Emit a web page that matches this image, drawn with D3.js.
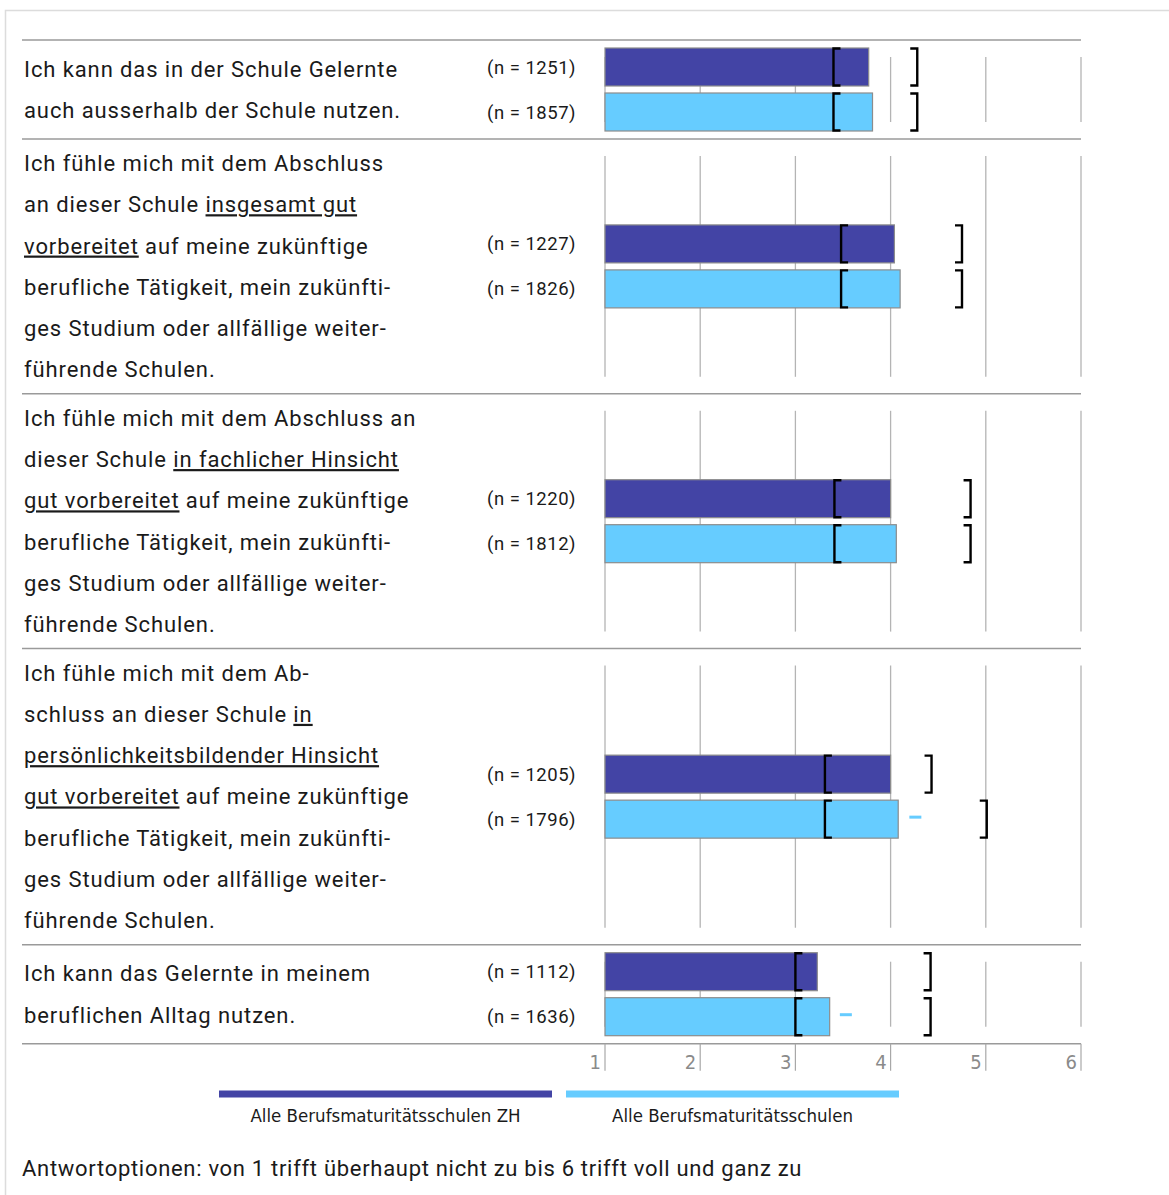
<!DOCTYPE html>
<html>
<head>
<meta charset="utf-8">
<script src="https://cdn.jsdelivr.net/npm/d3@7"></script>
<style>
  html, body { margin: 0; padding: 0; background: #fff; }
  svg { display: block; }
</style>
</head>
<body>
<svg id="chart" width="1169" height="1195"></svg>
<script>
// ---------- DATA ----------
// question text lines; {...} marks underlined parts
const questionLines = [
  ["Ich kann das in der Schule Gelernte",
   "auch ausserhalb der Schule nutzen."],
  ["Ich fühle mich mit dem Abschluss",
   "an dieser Schule {insgesamt gut}",
   "{vorbereitet} auf meine zukünftige",
   "berufliche Tätigkeit, mein zukünfti-",
   "ges Studium oder allfällige weiter-",
   "führende Schulen."],
  ["Ich fühle mich mit dem Abschluss an",
   "dieser Schule {in fachlicher Hinsicht}",
   "{gut vorbereitet} auf meine zukünftige",
   "berufliche Tätigkeit, mein zukünfti-",
   "ges Studium oder allfällige weiter-",
   "führende Schulen."],
  ["Ich fühle mich mit dem Ab-",
   "schluss an dieser Schule {in}",
   "{persönlichkeitsbildender Hinsicht}",
   "{gut vorbereitet} auf meine zukünftige",
   "berufliche Tätigkeit, mein zukünfti-",
   "ges Studium oder allfällige weiter-",
   "führende Schulen."],
  ["Ich kann das Gelernte in meinem",
   "beruflichen Alltag nutzen."]
];
const seriesNames = ["Alle Berufsmaturitätsschulen ZH", "Alle Berufsmaturitätsschulen"];
const nZH   = [1251, 1227, 1220, 1205, 1112];
const nAll  = [1857, 1826, 1812, 1796, 1636];
const meanZH  = [3.77, 4.04, 4.00, 4.00, 3.23];
const meanAll = [3.81, 4.10, 4.06, 4.08, 3.36];
const lowZH   = [3.40, 3.48, 3.41, 3.31, 3.00];
const highZH  = [4.28, 4.75, 4.84, 4.43, 4.42];
const lowAll  = [3.40, 3.48, 3.41, 3.31, 3.00];
const highAll = [4.28, 4.75, 4.84, 5.01, 4.42];
const markAll = [null, null, null, 4.26, 3.53];
const tickValues = [1, 2, 3, 4, 5, 6];
const footnote = "Antwortoptionen: von 1 trifft überhaupt nicht zu bis 6 trifft voll und ganz zu";

// ---------- STYLE / LAYOUT ----------
const colors = ["#4344A5", "#66CCFF"];
const mainFont = "Roboto, 'Open Sans', sans-serif";
const narrowFont = "'Liberation Sans Narrow', 'DejaVu Sans Condensed', Roboto, sans-serif";
const svg = d3.select("#chart");

const x = d3.scaleLinear().domain([1, 6]).range([605, 1081]);
const leftX = 22, rightX = 1081;
const lineH = 41.3;
const barH = 38, barGap = 7;

// outer frame
svg.append("rect").attr("x", 5.5).attr("y", 10.5).attr("width", 1200).attr("height", 1300)
  .attr("fill", "none").attr("stroke", "#dcdcdc").attr("stroke-width", 1.5);

// compute row layout
let rowTop = 40;
const rows = questionLines.map((lines, i) => {
  const h = Math.max(lines.length * lineH + 7, 99);
  const r = { i, lines, top: rowTop, h, center: rowTop + h / 2 };
  rowTop += h;
  return r;
});
const bottomY = rowTop;

// separators
const sepYs = rows.map(r => r.top).concat([bottomY]);
svg.append("g").selectAll("line").data(sepYs).join("line")
  .attr("x1", leftX).attr("x2", rightX)
  .attr("y1", d => d).attr("y2", d => d)
  .attr("stroke", "#9a9a9a").attr("stroke-width", 1.5);

rows.forEach(r => {
  const g = svg.append("g");
  // gridlines
  g.selectAll("line.grid").data(tickValues).join("line")
    .attr("class", "grid")
    .attr("x1", d => x(d)).attr("x2", d => x(d))
    .attr("y1", r.top + 17).attr("y2", r.top + r.h - 17)
    .attr("stroke", "#b4b4b4").attr("stroke-width", 1.3);

  // question text
  const firstY = r.center - (r.lines.length - 1) / 2 * lineH;
  r.lines.forEach((ln, k) => {
    const t = g.append("text")
      .attr("x", 24).attr("y", firstY + k * lineH + 7.8)
      .attr("font-family", mainFont).attr("font-size", 22)
      .attr("letter-spacing", 0.9)
      .attr("fill", "#1a1a1a");
    const parts = ln.split(/(\{[^}]*\})/).filter(s => s.length);
    parts.forEach(p => {
      if (p.startsWith("{")) {
        t.append("tspan").text(p.slice(1, -1)).style("text-decoration", "underline");
      } else {
        t.append("tspan").text(p);
      }
    });
  });

  const series = [
    { n: nZH[r.i], mean: meanZH[r.i], lo: lowZH[r.i], hi: highZH[r.i], mark: null, c: colors[0],
      y: r.center - barGap / 2 - barH },
    { n: nAll[r.i], mean: meanAll[r.i], lo: lowAll[r.i], hi: highAll[r.i], mark: markAll[r.i], c: colors[1],
      y: r.center + barGap / 2 }
  ];

  series.forEach(s => {
    // n label
    g.append("text").attr("x", 576).attr("y", s.y + barH / 2 + 6.5)
      .attr("text-anchor", "end")
      .attr("font-family", mainFont).attr("font-size", 18.5)
      .attr("letter-spacing", 0.5)
      .attr("fill", "#1a1a1a").text(`(n = ${s.n})`);
    // bar
    g.append("rect").attr("x", x(1)).attr("y", s.y)
      .attr("width", x(s.mean) - x(1)).attr("height", barH)
      .attr("fill", s.c).attr("stroke", "#8c8c8c").attr("stroke-width", 1.2);
    // brackets
    const bw = 7;
    g.append("path")
      .attr("d", `M${x(s.lo) + bw},${s.y + 0.5} H${x(s.lo)} V${s.y + barH - 0.5} H${x(s.lo) + bw}`)
      .attr("fill", "none").attr("stroke", "#000").attr("stroke-width", 2.4);
    g.append("path")
      .attr("d", `M${x(s.hi) - bw},${s.y + 0.5} H${x(s.hi)} V${s.y + barH - 0.5} H${x(s.hi) - bw}`)
      .attr("fill", "none").attr("stroke", "#000").attr("stroke-width", 2.4);
    // marker dash
    if (s.mark != null) {
      g.append("line")
        .attr("x1", x(s.mark) - 6).attr("x2", x(s.mark) + 6)
        .attr("y1", s.y + barH / 2 - 2).attr("y2", s.y + barH / 2 - 2)
        .attr("stroke", s.c).attr("stroke-width", 3);
    }
  });
});

// axis
const axisG = svg.append("g");
axisG.selectAll("line").data(tickValues).join("line")
  .attr("x1", d => x(d)).attr("x2", d => x(d))
  .attr("y1", bottomY).attr("y2", bottomY + 27)
  .attr("stroke", "#a8a8a8").attr("stroke-width", 1.2);
axisG.selectAll("text").data(tickValues).join("text")
  .attr("x", d => x(d) - 4).attr("y", bottomY + 25)
  .attr("text-anchor", "end")
  .attr("font-family", narrowFont).attr("font-size", 20)
  .attr("fill", "#8a8a8a").text(d => d);

// legend
const legendX = [219, 566], legendW = 333;
const lg = svg.append("g");
seriesNames.forEach((name, i) => {
  lg.append("line").attr("x1", legendX[i]).attr("x2", legendX[i] + legendW)
    .attr("y1", 1094).attr("y2", 1094)
    .attr("stroke", colors[i]).attr("stroke-width", 7);
  lg.append("text").attr("x", legendX[i] + legendW / 2).attr("y", 1122)
    .attr("text-anchor", "middle")
    .attr("font-family", narrowFont).attr("font-size", 18.5)
    .attr("fill", "#1a1a1a").text(name);
});

// footnote
svg.append("text").attr("x", 22).attr("y", 1176)
  .attr("font-family", mainFont).attr("font-size", 22)
  .attr("letter-spacing", 0.7)
  .attr("fill", "#1a1a1a").text(footnote);
</script>
</body>
</html>
